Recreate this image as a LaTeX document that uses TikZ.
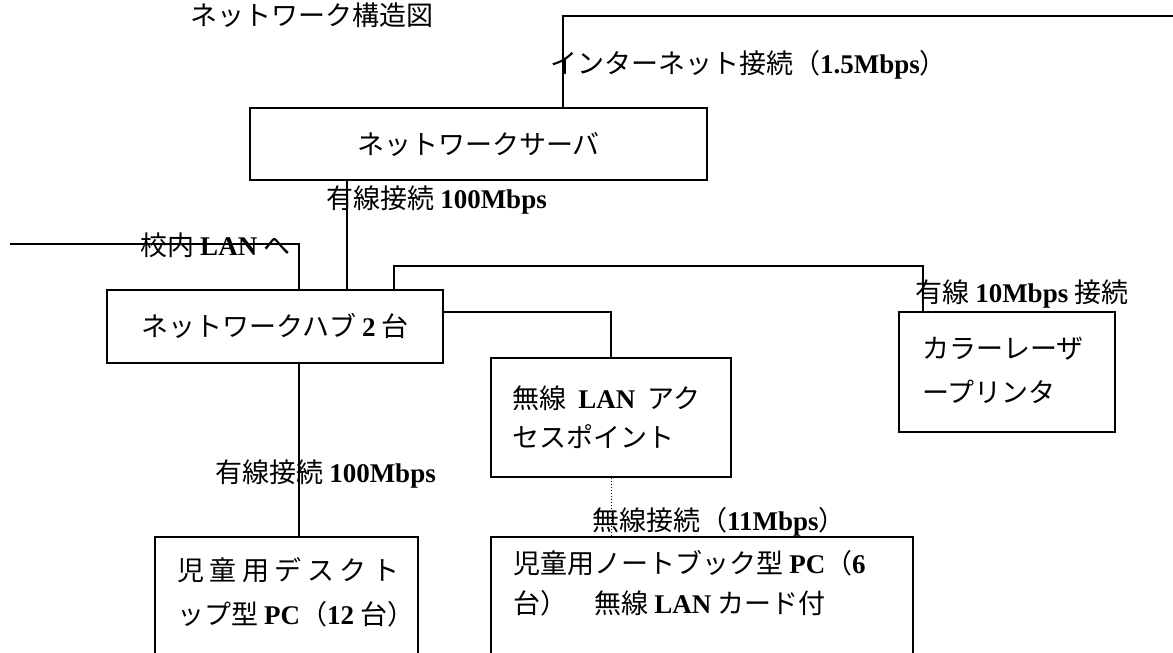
\documentclass[tikz,border=0pt]{standalone}
\usepackage{fontspec}
\setmainfont{Noto Sans CJK JP}
\newfontfamily\enfont{Liberation Serif}
\newcommand\en[1]{{\enfont\bfseries #1}}
\begin{document}
\begin{tikzpicture}[x=1pt,y=1pt,
  every node/.style={font=\fontsize{27}{40}\selectfont, inner sep=0pt},
  box/.style={draw, line width=1.6pt, rectangle},
  link/.style={line width=1.3pt},
  lbl/.style={anchor=base west}]
\useasboundingbox (0,0) rectangle (1173,-653);
\clip (0,0) rectangle (1173,-653);
% boxes
\node[box, minimum width=457, minimum height=72] (server) at (478.5,-144) {ネットワークサーバ};
\node[box, minimum width=336, minimum height=73] (hub) at (275,-326.5) {ネットワークハブ \en{2} 台};
\node[box, minimum width=216, minimum height=120] (printer) at (1007,-372) {};
\node[box, minimum width=240, minimum height=119] (ap) at (611,-417.5) {};
\node[box, minimum width=263, minimum height=163] (desk) at (286.5,-618.5) {};
\node[box, minimum width=422, minimum height=163] (note) at (702,-618.5) {};
% texts
\node[lbl] (title) at (190,-25) {ネットワーク構造図};
\node[lbl] (inetlbl) at (550,-73) {インターネット接続（\en{1.5Mbps}）};
\node[lbl] (wire1) at (326,-208) {有線接続 \en{100Mbps}};
\node[lbl] (schoollbl) at (140,-255) {校内 \en{LAN} へ};
\node[lbl] (prnlbl) at (915,-302) {有線 \en{10Mbps} 接続};
\node[lbl] (prn1) at (922,-358) {カラーレーザ};
\node[lbl] (prn2) at (922,-402) {ープリンタ};
\node[lbl] (ap1) at (512,-408) {無線\ \ \en{LAN}\ \ アク};
\node[lbl] (ap2) at (512,-447) {セスポイント};
\node[lbl] (wlbl) at (592,-530) {無線接続（\en{11Mbps}）};
\node[lbl] (wire2) at (215,-482) {有線接続 \en{100Mbps}};
\node[lbl] (desk1) at (177,-580) {\makebox[222pt][s]{児\hfil 童\hfil 用\hfil デ\hfil ス\hfil ク\hfil ト}};
\node[lbl] (desk2) at (177,-624) {ップ型 \en{PC}（\en{12} 台）};
\node[lbl] (note1) at (513,-573) {児童用ノートブック型 \en{PC}（\en{6}};
\node[lbl] (note2) at (513,-613) {台）　無線 \en{LAN} カード付};
% coordinates
\coordinate (inetTurn) at (563,-16);
\coordinate (inetEnd) at (1173,-16);
\coordinate (sh) at (347,0);
\coordinate (school) at (10,-244);
\coordinate (schoolx) at (299,0);
\coordinate (hp) at (394,-266);
\coordinate (px) at (923,0);
\coordinate (apx) at (611,-312);
\coordinate (hd) at (299,0);
% connectors
\draw[link] (inetTurn |- server.north) -- (inetTurn) -- (inetEnd);
\draw[link] (server.south -| sh) -- (hub.north -| sh);
\draw[link] (school) -| (hub.north -| schoolx);
\draw[link] (hub.north -| hp) -- (hp) -| (printer.north -| px);
\draw[link] (hub.east |- apx) -| (ap.north -| apx);
\draw[link] (hub.south -| hd) -- (desk.north -| hd);
\draw[line width=1pt, dotted] (ap.south -| apx) -- (note.north -| apx);
\end{tikzpicture}
\end{document}
